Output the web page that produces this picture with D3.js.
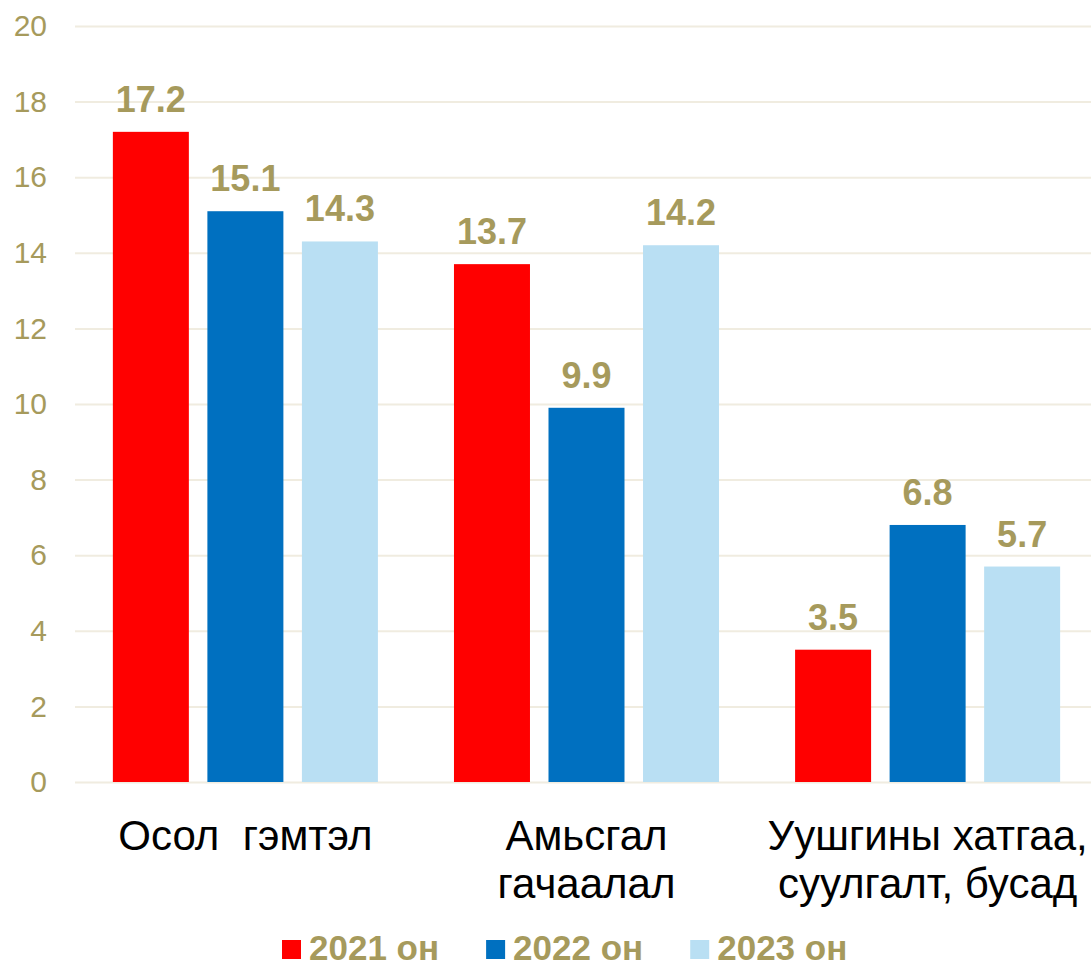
<!DOCTYPE html>
<head>
<meta charset="utf-8">
<title>Bar chart</title>
<script src="https://d3js.org/d3.v7.min.js"></script>
<style type="text/css">
body { margin: 0; background: #fff; }
text { font-family: Arial, "Liberation Sans", sans-serif; }
</style>
</head>

<body>
<script type="text/javascript">

// data
const categories = [["Осол  гэмтэл"], ["Амьсгал", "гачаалал"], ["Уушгины хатгаа,", "суулгалт, бусад"]];
const seriesNames = ["2021 он", "2022 он", "2023 он"];
const seriesColors = ["#ff0000", "#0070c0", "#b9dff3"];
const v2021 = [17.2, 13.7, 3.5];
const v2022 = [15.1, 9.9, 6.8];
const v2023 = [14.3, 14.2, 5.7];
const yTicks = [0, 2, 4, 6, 8, 10, 12, 14, 16, 18, 20];

const svgW = 1091;
const svgH = 968;
const gold = "#a69a5c";

const series = [v2021, v2022, v2023];
const rows = [];
categories.forEach((c, ci) => {
    series.forEach((s, si) => rows.push({cat: ci, ser: si, value: s[ci]}));
});

const svg = d3.select("body").append("svg")
    .attr("width", svgW)
    .attr("height", svgH);

// scales
const y = d3.scaleLinear().domain([0, 20]).range([782, 26]);
const x0 = d3.scaleBand()
    .domain(d3.range(categories.length))
    .range([75, 1098])
    .paddingInner(0.223)
    .paddingOuter(0.111);
const x1 = d3.scaleBand()
    .domain(d3.range(seriesNames.length))
    .range([0, x0.bandwidth()])
    .paddingInner(0.196);

// gridlines + y labels
const yAxis = svg.append("g")
    .call(d3.axisLeft(y).tickValues(yTicks).tickSize(-(svgW - 75)).tickPadding(28))
    .attr("transform", "translate(75,0)");
yAxis.select(".domain").remove();
yAxis.selectAll(".tick line").attr("stroke", "#f0ece0").attr("stroke-width", 2);
yAxis.selectAll(".tick text")
    .attr("fill", gold)
    .style("font-size", "30px")
    .style("font-family", "Arial, 'Liberation Sans', sans-serif");

// bars
svg.append("g").selectAll("rect")
    .data(rows)
    .enter().append("rect")
    .attr("x", d => x0(d.cat) + x1(d.ser))
    .attr("width", x1.bandwidth())
    .attr("y", d => y(d.value))
    .attr("height", d => y(0) - y(d.value))
    .attr("fill", d => seriesColors[d.ser]);

// value labels
svg.append("g").selectAll("text")
    .data(rows)
    .enter().append("text")
    .attr("x", d => x0(d.cat) + x1(d.ser) + x1.bandwidth() / 2)
    .attr("y", d => y(d.value) - 20)
    .attr("text-anchor", "middle")
    .attr("fill", gold)
    .style("font-size", "36px")
    .style("font-weight", "bold")
    .text(d => d.value.toFixed(1));

// category labels
const catG = svg.append("g").selectAll("text")
    .data(categories)
    .enter().append("text")
    .attr("x", (d, i) => x0(i) + x0.bandwidth() / 2)
    .attr("y", 850)
    .attr("text-anchor", "middle")
    .attr("fill", "#000")
    .style("font-size", "42px")
    .style("white-space", "pre");
catG.selectAll("tspan")
    .data(d => d)
    .enter().append("tspan")
    .attr("x", function() { return this.parentNode.getAttribute("x"); })
    .attr("dy", (d, i) => i === 0 ? 0 : 48)
    .text(d => d);

// legend
const leg = svg.append("g");
const items = leg.selectAll("g")
    .data(seriesNames)
    .enter().append("g");
items.append("rect")
    .attr("width", 19).attr("height", 19)
    .attr("y", 940)
    .attr("fill", (d, i) => seriesColors[i]);
items.append("text")
    .attr("x", 27)
    .attr("y", 960)
    .attr("fill", gold)
    .style("font-size", "35px")
    .style("font-weight", "bold")
    .text(d => d);
let lx = 282;
items.each(function() {
    d3.select(this).attr("transform", "translate(" + lx + ",0)");
    lx += 27 + d3.select(this).select("text").node().getComputedTextLength() + 47;
});

</script>
</body>
